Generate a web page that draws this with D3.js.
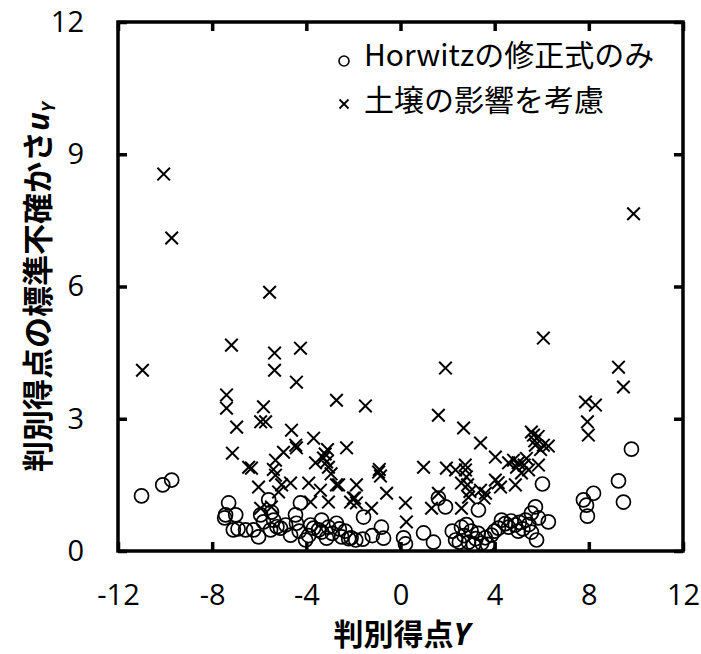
<!DOCTYPE html>
<html>
<head>
<meta charset="utf-8">
<script src="https://cdn.jsdelivr.net/npm/d3@7"></script>
<style>
  body { margin: 0; background: #fff; }
  svg { display: block; }
</style>
</head>
<body>
<svg id="chart" width="701" height="654"></svg>
<script>
// Horwitzの修正式のみ (circles): [Y, uY]
const horwitzPts = [
  [-11.0, 1.25], [-10.1, 1.5], [-9.72, 1.61],
  [-7.3, 1.09], [-7.43, 0.82], [-7.0, 0.82], [-7.47, 0.75], [-7.1, 0.48], [-6.58, 0.48],
  [-6.24, 0.48], [-6.03, 0.32], [-5.94, 0.82], [-5.6, 1.16], [-5.48, 0.88], [-5.82, 0.66],
  [-5.39, 0.7], [-5.52, 0.48], [-5.1, 0.52], [-4.88, 0.59], [-4.67, 0.36], [-4.46, 0.82],
  [-4.25, 1.09], [-4.42, 0.63], [-4.03, 0.25], [-3.82, 0.59], [-3.69, 0.52], [-3.48, 0.48],
  [-3.35, 0.43], [-3.35, 0.7], [-3.06, 0.54], [-3.14, 0.29], [-2.72, 0.63], [-2.5, 0.32],
  [-2.35, 0.45], [-2.1, 0.3], [-1.9, 0.25], [-1.6, 0.27], [-1.57, 0.77], [-1.2, 0.35],
  [-0.81, 0.54], [-0.72, 0.29], [0.13, 0.3], [0.21, 0.16], [0.98, 0.41], [1.4, 0.2],
  [1.61, 1.2], [1.91, 1.0], [2.34, 0.25], [2.59, 0.54], [2.7, 0.35], [2.89, 0.2],
  [3.0, 0.45], [3.1, 0.15], [3.2, 0.28], [3.31, 0.93], [3.45, 0.18], [3.6, 0.3],
  [3.86, 0.36], [4.0, 0.45], [4.16, 0.52], [4.29, 0.7], [4.59, 0.54], [4.88, 0.59],
  [5.05, 0.65], [5.2, 0.5], [5.31, 0.7], [5.56, 0.43], [5.56, 0.86], [5.73, 1.0],
  [5.78, 0.25], [5.86, 0.75], [6.03, 1.52], [6.28, 0.66],
  [-6.9, 0.5], [-5.25, 0.55], [-4.3, 0.45], [-3.9, 0.35], [-2.9, 0.4], [-2.6, 0.5],
  [-2.2, 0.28], [2.2, 0.45], [2.5, 0.2], [2.8, 0.6], [3.3, 0.4], [3.7, 0.15], [4.45, 0.62],
  [4.7, 0.68], [5.0, 0.45], [5.45, 0.6],
  [7.77, 1.16], [7.9, 1.04], [7.94, 0.79], [8.2, 1.31], [9.26, 1.59], [9.47, 1.11], [9.81, 2.31]
];

// 土壌の影響を考慮 (crosses): [Y, uY]
const soilPts = [
  [-10.96, 4.1], [-10.06, 8.55], [-9.72, 7.1],
  [-7.39, 3.54], [-7.39, 3.24], [-7.18, 4.67], [-7.14, 2.22], [-6.96, 2.81],
  [-6.45, 1.9], [-6.33, 1.88], [-6.03, 1.45], [-5.94, 2.93], [-5.94, 0.97], [-5.82, 3.27],
  [-5.73, 2.93], [-5.56, 5.87], [-5.48, 1.0], [-5.35, 4.49], [-5.35, 4.1], [-5.31, 2.06],
  [-5.31, 1.72], [-5.18, 1.34], [-5.05, 1.5], [-4.97, 2.24], [-4.67, 1.54], [-4.63, 2.74],
  [-4.42, 3.83], [-4.42, 2.34], [-4.25, 4.6], [-3.9, 1.54], [-3.82, 1.11], [-3.69, 2.56],
  [-3.61, 2.0], [-3.4, 1.38], [-3.27, 2.11], [-3.14, 2.02], [-3.06, 1.9], [-3.06, 1.11],
  [-2.72, 3.42], [-2.72, 1.5], [-2.63, 1.5], [-2.29, 2.34], [-2.12, 1.11], [-2.0, 1.2],
  [-1.87, 1.5], [-1.87, 1.09], [-1.49, 3.29], [-1.23, 0.97], [-0.93, 1.79], [-0.85, 1.7],
  [-0.59, 1.31], [0.21, 1.09], [0.25, 0.66], [0.98, 1.9], [1.32, 0.97], [1.61, 3.08],
  [1.61, 1.31], [1.91, 4.15], [1.95, 1.88], [2.34, 1.84], [2.59, 1.54], [2.59, 0.97],
  [2.68, 2.79], [2.76, 1.84], [2.8, 1.68], [2.89, 1.22], [3.4, 2.45], [3.4, 1.38],
  [3.61, 1.31], [4.03, 2.13], [4.03, 1.61], [4.25, 1.45], [4.59, 2.0], [4.8, 2.06],
  [4.88, 1.5], [4.93, 1.9], [5.14, 1.77], [5.44, 1.84], [5.56, 2.7], [5.65, 2.63],
  [5.73, 2.4], [5.86, 1.95], [6.07, 4.83], [6.07, 2.4], [6.28, 2.38],
  [-5.4, 1.85], [-4.45, 2.4], [-3.2, 2.2], [-3.1, 2.3], [-2.95, 1.75], [-1.95, 1.2],
  [-0.9, 1.85], [2.75, 1.95], [2.85, 1.5], [2.95, 1.35], [3.55, 1.2], [4.15, 1.55],
  [5.0, 2.0], [5.25, 1.95], [5.35, 2.1], [5.7, 2.5], [5.85, 2.6], [5.95, 2.3],
  [7.86, 3.38], [7.94, 2.93], [7.98, 2.63], [8.28, 3.31], [9.26, 4.17], [9.47, 3.72], [9.9, 7.65]
];

const xTicks = [-12, -8, -4, 0, 4, 8, 12];
const yTicks = [0, 3, 6, 9, 12];
const legendLabels = ['Horwitzの修正式のみ', '土壌の影響を考慮'];

const svg = d3.select('#chart');
const pl = 118, pr = 683, pt = 22, pb = 551;

const x = d3.scaleLinear().domain([-12, 12]).range([pl, pr]);
const y = d3.scaleLinear().domain([0, 12]).range([pb, pt]);

const numFont = '"Open Sans", "Noto Sans", sans-serif';
const jpFont = '"Noto Sans CJK JP", sans-serif';

// inward ticks on all four sides; plain hyphen for negatives
const fmt = d => String(d);
const tickLen = 9;
const axes = svg.append('g');
axes.append('g').attr('transform', `translate(0,${pb})`)
  .call(d3.axisBottom(x).tickValues(xTicks).tickFormat(fmt).tickSizeInner(-tickLen).tickSizeOuter(0).tickPadding(33));
axes.append('g').attr('transform', `translate(0,${pt})`)
  .call(d3.axisTop(x).tickValues(xTicks).tickSizeInner(-tickLen).tickSizeOuter(0).tickFormat(''));
axes.append('g').attr('transform', `translate(${pl},0)`)
  .call(d3.axisLeft(y).tickValues(yTicks).tickFormat(fmt).tickSizeInner(-tickLen).tickSizeOuter(0).tickPadding(34));
axes.append('g').attr('transform', `translate(${pr},0)`)
  .call(d3.axisRight(y).tickValues(yTicks).tickSizeInner(-tickLen).tickSizeOuter(0).tickFormat(''));

axes.selectAll('.domain').remove();
axes.selectAll('.tick line').attr('stroke', '#000').attr('stroke-width', 3.5);
axes.selectAll('.tick text')
  .attr('fill', '#000')
  .attr('font-family', numFont)
  .attr('font-size', 29);

svg.append('rect')
  .attr('x', pl).attr('y', pt)
  .attr('width', pr - pl).attr('height', pb - pt)
  .attr('fill', 'none').attr('stroke', '#000').attr('stroke-width', 3.5);

const plot = svg.append('g');

plot.selectAll('circle.h')
  .data(horwitzPts)
  .join('circle')
  .attr('class', 'h')
  .attr('cx', d => x(d[0]))
  .attr('cy', d => y(d[1]))
  .attr('r', 7)
  .attr('fill', 'none')
  .attr('stroke', '#000')
  .attr('stroke-width', 1.7);

const cross = s => `M${-s},${-s}L${s},${s}M${-s},${s}L${s},${-s}`;

plot.selectAll('path.s')
  .data(soilPts)
  .join('path')
  .attr('class', 's')
  .attr('transform', d => `translate(${x(d[0])},${y(d[1])})`)
  .attr('d', cross(6.3))
  .attr('stroke', '#000')
  .attr('stroke-width', 2);

// legend
const legend = svg.append('g');
legend.append('circle')
  .attr('cx', 344).attr('cy', 61).attr('r', 5)
  .attr('fill', 'none').attr('stroke', '#000').attr('stroke-width', 1.6);
legend.append('path')
  .attr('transform', 'translate(344,104)')
  .attr('d', cross(4.5))
  .attr('stroke', '#000').attr('stroke-width', 1.8);
legendLabels.forEach((t, i) => {
  legend.append('text')
    .attr('x', 364).attr('y', 55 + i * 45)
    .attr('dy', '0.36em')
    .attr('font-family', jpFont)
    .attr('font-size', 30)
    .text(t);
});

// axis titles
const xt = svg.append('text')
  .attr('x', 402).attr('y', 645)
  .attr('text-anchor', 'middle')
  .attr('font-family', jpFont)
  .attr('font-size', 30)
  .attr('font-weight', 'bold');
xt.append('tspan').text('判別得点');
xt.append('tspan').attr('font-style', 'italic').attr('font-family', numFont).text('Y');

const yt = svg.append('text')
  .attr('transform', 'translate(49,287) rotate(-90)')
  .attr('text-anchor', 'middle')
  .attr('font-family', jpFont)
  .attr('font-size', 31)
  .attr('font-weight', 'bold');
yt.append('tspan').text('判別得点の標準不確かさ');
yt.append('tspan').attr('font-style', 'italic').attr('font-family', numFont).text('u');
yt.append('tspan').attr('font-style', 'italic').attr('font-family', numFont)
  .attr('font-size', 18).attr('dy', 6).text('Y');
</script>
</body>
</html>
